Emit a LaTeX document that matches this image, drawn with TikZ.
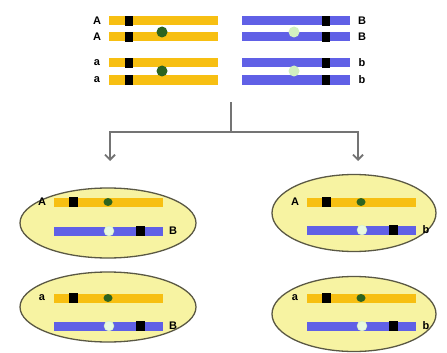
\documentclass[tikz,border=0pt]{standalone}
\usepackage{fontspec}
\setmainfont{Liberation Sans}
\usetikzlibrary{arrows.meta,shapes.geometric}

\definecolor{chromyellow}{HTML}{F7BF12}
\definecolor{chromblue}{HTML}{6060E6}
\definecolor{centrodark}{HTML}{2C6420}
\definecolor{centrolight}{HTML}{D2F0C0}
\definecolor{cellfill}{HTML}{F7F3A2}
\definecolor{cellline}{HTML}{5A5844}
\definecolor{forkgray}{HTML}{747474}

\tikzset{
  ybar/.style={fill=chromyellow},
  bbar/.style={fill=chromblue},
  gene/.style={fill=black},
  allele/.style={font=\bfseries\fontsize{11}{11}\selectfont, inner sep=0pt},
  cell/.style={ellipse, draw=cellline, line width=1.3pt, fill=cellfill, inner sep=0pt},
  fork line/.style={draw=forkgray, line width=1.8pt}
}

\begin{document}
\begin{tikzpicture}[x=1pt, y=-1pt]
  \useasboundingbox (0,0) rectangle (447,353);

  % parent cell: four chromatids of each homologue pair
  \foreach \y/\l/\r in {21/A/B, 37/A/B, 63/a/b, 80/a/b} {
    \fill[ybar] (109,\y-4.5) rectangle (218,\y+4.5);
    \fill[gene] (125,\y-5) rectangle (133,\y+5);
    \fill[bbar] (242,\y-4.5) rectangle (350,\y+4.5);
    \fill[gene] (322,\y-5) rectangle (330,\y+5);
    \node[allele] (l\y) at (97,\y) {\l};
    \node[allele] (r\y) at (362,\y) {\r};
  }
  \foreach \y in {32, 71} {
    \fill[centrodark] (162,\y) circle (5.5);
    \fill[centrolight] (294,\y) circle (5.5);
  }

  % split into two directions
  \coordinate (stem) at (231,102);
  \coordinate (fork) at (231,132);
  \coordinate (lefttip) at (110,161);
  \coordinate (righttip) at (358,161);
  \draw[fork line] (stem) -- (fork);
  \draw[fork line, -{Straight Barb[length=5pt, width=10pt]}] (fork) -| (lefttip);
  \draw[fork line, -{Straight Barb[length=5pt, width=10pt]}] (fork) -| (righttip);

  % daughter cells
  \node[cell, minimum width=176pt, minimum height=70pt] (cellAB) at (108,223) {};
  \node[cell, minimum width=176pt, minimum height=70pt] (cellaB) at (108,307) {};
  \node[cell, minimum width=164pt, minimum height=77pt] (cellAb) at (354,213) {};
  \node[cell, minimum width=164pt, minimum height=75pt] (cellab) at (354,314) {};

  % chromosomes inside the cells
  \foreach \x/\yt/\yb/\l/\r in {54/202/231/A/B, 54/298/326/a/B, 307/202/230/A/b, 307/298/326/a/b} {
    \fill[ybar] (\x,\yt-4.5) rectangle (\x+109,\yt+4.5);
    \fill[gene] (\x+15,\yt-5) rectangle (\x+24,\yt+5);
    \fill[centrodark] (\x+54,\yt) ellipse (4.5 and 4);
    \fill[bbar] (\x,\yb-4.5) rectangle (\x+109,\yb+4.5);
    \filldraw[fill=centrolight!50!white, draw=centrolight] (\x+55,\yb) circle (5);
    \fill[gene] (\x+82,\yb-5) rectangle (\x+91,\yb+5);
    \node[allele] (t\x\yt) at (\x-12,\yt) {\l};
    \node[allele] (b\x\yb) at (\x+119,\yb) {\r};
  }
\end{tikzpicture}
\end{document}
